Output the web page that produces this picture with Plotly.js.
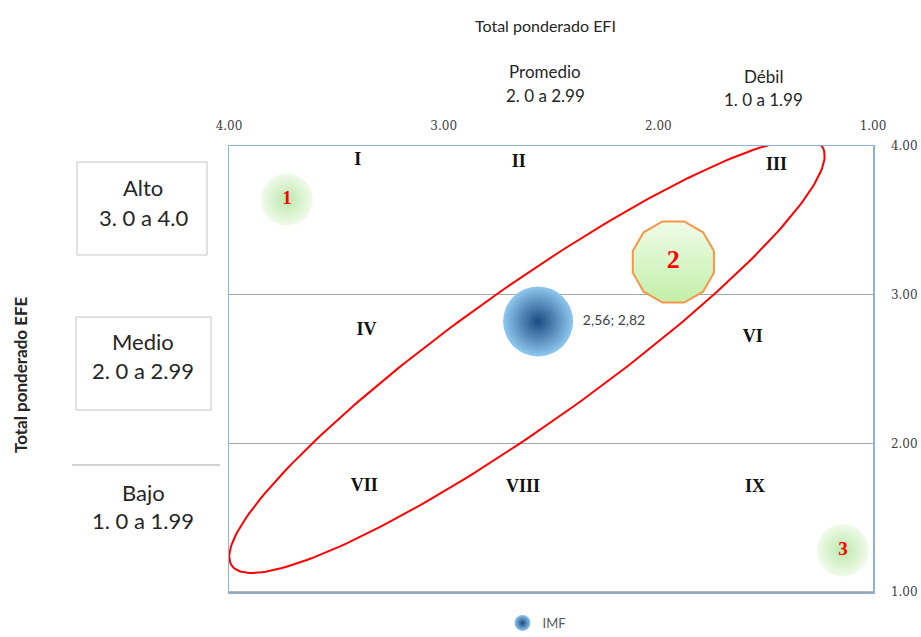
<!DOCTYPE html>
<html>
<head>
<meta charset="utf-8">
<script src="https://cdn.plot.ly/plotly-3.0.1.min.js"></script>
<style>html,body{margin:0;padding:0;background:#fff;}#chart{width:921px;height:637px;}</style>
</head>
<body>
<div id="chart"></div>
<script>
// ---------- data ----------
const seriesNames = ['IMF'];
const efiValues = [2.56];
const efeValues = [2.82];
const pointLabels = ['2,56; 2,82'];

const xTickVals = [4, 3, 2, 1];
const xTickText = ['4.00', '3.00', '2.00', '1.00'];
const yTickVals = [1, 2, 3, 4];
const yTickText = ['1.00', '2.00', '3.00', '4.00'];

const quadrantLabels = ['I', 'II', 'III', 'IV', 'VI', 'VII', 'VIII', 'IX'];
const quadrantX = [3.40, 2.65, 1.45, 3.36, 1.56, 3.37, 2.63, 1.55];
const quadrantY = [3.90, 3.89, 3.87, 2.76, 2.71, 1.71, 1.70, 1.70];

const zoneLabels = ['1', '2', '3'];
const zoneX = [3.73, 1.93, 1.14];
const zoneY = [3.64, 3.22, 1.28];

// ---------- layout geometry ----------
const W = 921, H = 637;
const L = 229, R = 873, T = 146, B = 592;
const pxPerX = (R - L) / 3, pxPerY = (B - T) / 3;
const PX = p => (p - L) / (R - L);
const PY = p => (B - p) / (B - T);

// dodecagon around zone 2
const dodeR = 42;
const dodeX = [], dodeY = [];
for (let i = 0; i <= 12; i++) {
  const a = (15 + 30 * i) * Math.PI / 180;
  dodeX.push(zoneX[1] - dodeR * Math.cos(a) / pxPerX);
  dodeY.push(zoneY[1] + dodeR * Math.sin(a) / pxPerY);
}

// red ellipse (decoration), defined in pixels around a data centre
const ellC = [2.612, 2.587], ellA = 362, ellB = 68, ellTh = 35.4 * Math.PI / 180;
const ellX = [], ellY = [];
for (let i = 0; i <= 240; i++) {
  const t = 2 * Math.PI * i / 240;
  const dx = ellA * Math.cos(t) * Math.cos(ellTh) - ellB * Math.sin(t) * Math.sin(ellTh);
  const dy = ellA * Math.cos(t) * Math.sin(ellTh) + ellB * Math.sin(t) * Math.cos(ellTh);
  ellX.push(ellC[0] - dx / pxPerX);
  ellY.push(ellC[1] + dy / pxPerY);
}

const traces = [
  { // zone 2 polygon
    x: dodeX, y: dodeY, type: 'scatter', mode: 'lines', fill: 'toself',
    line: { color: '#f79646', width: 2 },
    fillgradient: { type: 'vertical', colorscale: [[0, '#c2efa8'], [1, '#effce8']] },
    showlegend: false, hoverinfo: 'skip'
  },
  { // zones 1 and 3 soft green circles
    x: [zoneX[0], zoneX[2]], y: [zoneY[0], zoneY[2]], type: 'scatter', mode: 'markers',
    marker: { size: 52, color: '#f0fbea', line: { width: 0 },
      gradient: { type: 'radial', color: '#bde8ad' } },
    showlegend: false, hoverinfo: 'skip'
  },
  { // ellipse
    x: ellX, y: ellY, type: 'scatter', mode: 'lines',
    line: { color: '#ff0000', width: 2 }, showlegend: false, hoverinfo: 'skip'
  },
  { // quadrant labels
    x: quadrantX, y: quadrantY, text: quadrantLabels, type: 'scatter', mode: 'text',
    textfont: { family: 'Liberation Serif', size: 18, color: '#111', weight: 'bold' },
    showlegend: false, hoverinfo: 'skip'
  },
  { // zone numbers
    x: zoneX, y: zoneY, text: zoneLabels, type: 'scatter', mode: 'text',
    textfont: { family: 'Liberation Serif', size: [19, 26, 19], color: '#ff0000', weight: 'bold' },
    showlegend: false, hoverinfo: 'skip'
  },
  { // the IMF bubble
    x: efiValues, y: efeValues, text: pointLabels, name: seriesNames[0],
    type: 'scatter', mode: 'markers+text', textposition: 'middle right',
    textfont: { family: 'Lato', size: 14, color: '#404040' },
    marker: { size: 70, color: '#8fc8ef', line: { width: 0 },
      gradient: { type: 'radial', color: '#1c4a82' } },
    showlegend: true
  }
];

const ann = [];
function txt(t, x, y, size, opts) {
  ann.push(Object.assign({
    text: t, xref: 'paper', yref: 'paper', x: PX(x), y: PY(y),
    xanchor: 'center', yanchor: 'middle', showarrow: false,
    font: { family: 'Lato', size: size, color: '#262626' }
  }, opts || {}));
}
txt('Total ponderado EFI', 545, 25, 16);
txt('Promedio', 545, 72, 17);
txt('2. 0 a 2.99', 545, 95, 17);
txt('Débil', 763, 76, 17);
txt('1. 0 a 1.99', 763, 99, 17);
txt('Alto', 143, 187, 22);
txt('3. 0 a 4.0', 143, 217, 22);
txt('Medio', 143, 341, 22);
txt('2. 0 a 2.99', 143, 370, 22);
txt('Bajo', 143, 492, 22);
txt('1. 0 a 1.99', 143, 520, 22);
txt('<b>Total ponderado EFE</b>', 20, 375, 17, { textangle: -90 });

const shapes = [
  { type: 'rect', xref: 'paper', yref: 'paper', x0: PX(77), x1: PX(207), y0: PY(162), y1: PY(255),
    line: { color: '#c4c4c4', width: 1 } },
  { type: 'rect', xref: 'paper', yref: 'paper', x0: PX(76), x1: PX(211), y0: PY(317), y1: PY(410),
    line: { color: '#c4c4c4', width: 1 } },
  { type: 'line', xref: 'paper', yref: 'paper', x0: PX(72), x1: PX(220), y0: PY(465), y1: PY(465),
    line: { color: '#a6a6a6', width: 1 } },
  { type: 'line', xref: 'paper', yref: 'paper', x0: 0, x1: 1, y0: 0, y1: 0,
    line: { color: '#a0a0a0', width: 1.5 } }
];

const layout = {
  width: W, height: H,
  margin: { l: L, r: W - R, t: T, b: H - B, pad: 0, autoexpand: false },
  paper_bgcolor: '#ffffff', plot_bgcolor: '#ffffff',
  font: { family: 'Lato', color: '#404040' },
  xaxis: {
    side: 'top', range: [4, 1], tickvals: xTickVals, ticktext: xTickText,
    showgrid: false, zeroline: false, showline: true, mirror: true,
    linecolor: '#8eb1da', linewidth: 1.5, ticks: '', ticklabelstandoff: 10,
    tickfont: { family: 'DejaVu Serif', size: 12, color: '#404040' }
  },
  yaxis: {
    side: 'right', range: [1, 4], tickvals: yTickVals, ticktext: yTickText,
    showgrid: true, gridcolor: '#a6a6a6', gridwidth: 1, zeroline: false,
    showline: true, mirror: true, linecolor: '#8eb1da', linewidth: 1.5,
    ticks: '', ticklabelstandoff: 14,
    tickfont: { family: 'DejaVu Serif', size: 12, color: '#404040' }
  },
  showlegend: true,
  legend: { orientation: 'h', x: PX(537), xanchor: 'center', y: PY(608), yanchor: 'top',
    font: { family: 'Lato', size: 13, color: '#595959' }, bgcolor: 'rgba(0,0,0,0)' },
  annotations: ann,
  shapes: shapes
};

Plotly.newPlot('chart', traces, layout, { displayModeBar: false, staticPlot: true });
</script>
</body>
</html>
